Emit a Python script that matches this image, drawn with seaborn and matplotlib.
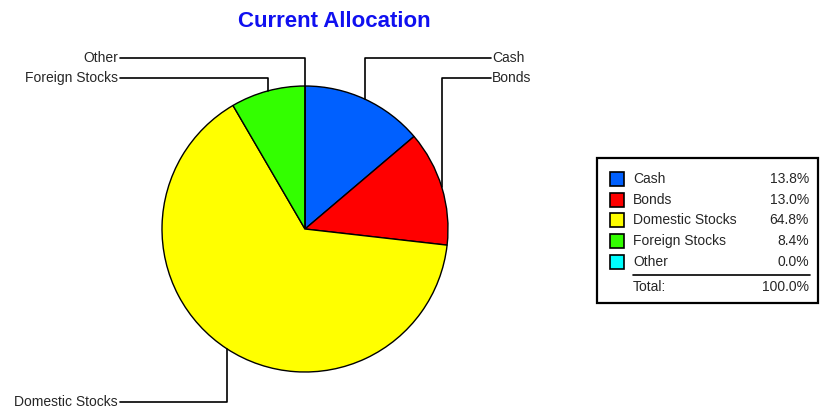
import numpy as np
import matplotlib
matplotlib.use("Agg")
import matplotlib.pyplot as plt
import seaborn as sns

# data
labels = ["Cash", "Bonds", "Domestic Stocks", "Foreign Stocks", "Other"]
percents = [13.8, 13.0, 64.8, 8.4, 0.0]
colors = ["#0060FF", "#FF0000", "#FFFF00", "#33FF00", "#00FFFF"]
total_label = "100.0%"

sns.set_theme(style="white")
plt.rcParams['font.family'] = ['Liberation Sans', 'DejaVu Sans']

W, H = 824, 412
fig = plt.figure(figsize=(W / 100, H / 100), dpi=100)
ax = fig.add_axes([0, 0, 1, 1])


def py(y):
    # pixel row -> data y
    return H - y


cx, cy, r = 305, py(229), 143
wedges, _ = ax.pie(percents, colors=colors, startangle=90, counterclock=False,
                   radius=r, center=(cx, cy), frame=True,
                   wedgeprops=dict(edgecolor="black", linewidth=1.0))
ax.set_xlim(0, W)
ax.set_ylim(0, H)
ax.set_aspect("equal")
ax.axis("off")

ax.text(334, py(21), "Current Allocation", ha="center", va="center",
        fontsize=16, fontweight="bold", color="#1010F0")

# leader lines: label row y and side
label_rows = {"Cash": (58, "right"), "Bonds": (78, "right"),
              "Other": (58, "left"), "Foreign Stocks": (78, "left"),
              "Domestic Stocks": (402, "left")}
fs = 10
for w, name in zip(wedges, labels):
    mid = np.deg2rad((w.theta1 + w.theta2) / 2)
    ex, ey = cx + r * np.cos(mid), cy + r * np.sin(mid)
    ly, side = label_rows[name]
    if side == "right":
        ax.plot([ex, ex, 491], [ey, py(ly), py(ly)], color="black", lw=1.2)
        ax.text(492, py(ly), name, ha="left", va="center", fontsize=fs)
    else:
        ax.plot([ex, ex, 120], [ey, py(ly), py(ly)], color="black", lw=1.2)
        ax.text(118, py(ly), name, ha="right", va="center", fontsize=fs)

# legend box
ax.add_patch(plt.Rectangle((597, py(303)), 221, 145, fill=False,
                           edgecolor="black", lw=1.6))
row_y = [179, 199.5, 220, 240.5, 262]
for name, pct, col, yy in zip(labels, percents, colors, row_y):
    ax.add_patch(plt.Rectangle((610, py(yy) - 7), 14, 14, facecolor=col,
                               edgecolor="black", lw=1.2))
    ax.text(633, py(yy), name, ha="left", va="center", fontsize=fs)
    ax.text(809, py(yy), f"{pct:.1f}%", ha="right", va="center", fontsize=fs)
ax.plot([633, 810], [py(275), py(275)], color="black", lw=1.2)
ax.text(633, py(287), "Total:", ha="left", va="center", fontsize=fs)
ax.text(809, py(287), total_label, ha="right", va="center", fontsize=fs)

fig.savefig("out.png", dpi=100, facecolor="white")
